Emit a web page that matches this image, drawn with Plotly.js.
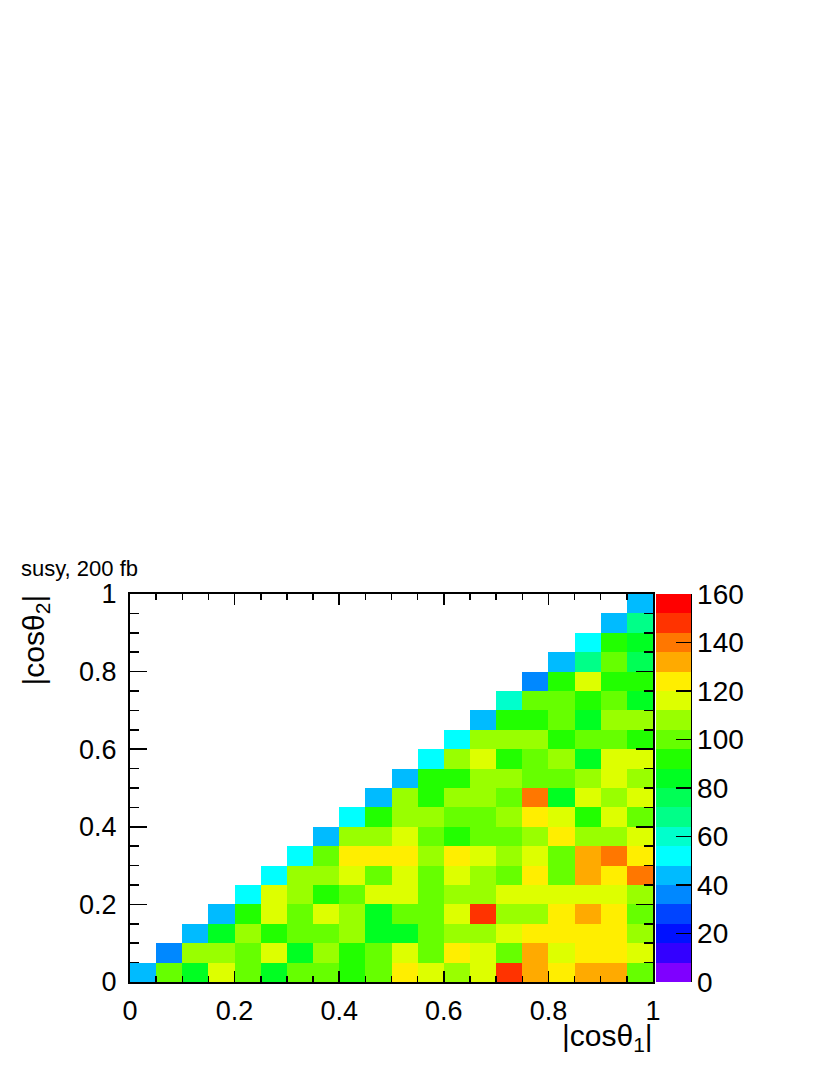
<!DOCTYPE html>
<html>
<head>
<meta charset="utf-8">
<script src="https://cdn.plot.ly/plotly-3.0.1.min.js"></script>
<style>
  body { margin: 0; background: #fff; }
  #plot { width: 830px; height: 1075px; }
</style>
</head>
<body>
<div id="plot"></div>
<script>
// bin centres of |cos theta_1| (x) and |cos theta_2| (y), 20 bins in [0,1]
const xCenters = [0.025, 0.075, 0.125, 0.175, 0.225, 0.275, 0.325, 0.375, 0.425, 0.475,
                  0.525, 0.575, 0.625, 0.675, 0.725, 0.775, 0.825, 0.875, 0.925, 0.975];
const yCenters = xCenters.slice();

// entries per bin, one row per y bin (bottom to top), empty above the diagonal
const n = null;
const row00 = [44, 100, 84, 116, 100, 84, 100, 100, 92, 100, 124, 116, 108, 116, 148, 132, 124, 132, 132, 100];
const row01 = [n, 36, 108, 108, 100, 116, 84, 108, 92, 100, 116, 100, 124, 116, 100, 132, 116, 124, 124, 116];
const row02 = [n, n, 44, 84, 108, 92, 100, 100, 108, 84, 84, 100, 108, 108, 116, 124, 124, 124, 124, 108];
const row03 = [n, n, n, 44, 92, 116, 100, 116, 108, 84, 100, 100, 116, 148, 108, 108, 124, 132, 124, 100];
const row04 = [n, n, n, n, 52, 116, 108, 92, 100, 116, 116, 100, 108, 108, 116, 116, 116, 116, 116, 108];
const row05 = [n, n, n, n, n, 52, 108, 108, 116, 100, 116, 100, 116, 108, 100, 124, 100, 132, 124, 140];
const row06 = [n, n, n, n, n, n, 52, 100, 124, 124, 124, 108, 124, 116, 108, 116, 100, 132, 140, 124];
const row07 = [n, n, n, n, n, n, n, 44, 108, 108, 116, 100, 92, 100, 100, 108, 124, 108, 108, 116];
const row08 = [n, n, n, n, n, n, n, n, 52, 92, 108, 108, 100, 100, 108, 124, 116, 92, 116, 100];
const row09 = [n, n, n, n, n, n, n, n, n, 44, 108, 92, 108, 108, 100, 140, 84, 116, 108, 116];
const row10 = [n, n, n, n, n, n, n, n, n, n, 44, 92, 92, 108, 108, 100, 100, 108, 116, 108];
const row11 = [n, n, n, n, n, n, n, n, n, n, n, 52, 108, 116, 92, 100, 108, 84, 116, 116];
const row12 = [n, n, n, n, n, n, n, n, n, n, n, n, 52, 108, 108, 108, 92, 100, 100, 92];
const row13 = [n, n, n, n, n, n, n, n, n, n, n, n, n, 44, 92, 92, 100, 84, 108, 108];
const row14 = [n, n, n, n, n, n, n, n, n, n, n, n, n, n, 60, 100, 100, 92, 100, 84];
const row15 = [n, n, n, n, n, n, n, n, n, n, n, n, n, n, n, 36, 92, 116, 92, 92];
const row16 = [n, n, n, n, n, n, n, n, n, n, n, n, n, n, n, n, 44, 68, 100, 76];
const row17 = [n, n, n, n, n, n, n, n, n, n, n, n, n, n, n, n, n, 52, 92, 84];
const row18 = [n, n, n, n, n, n, n, n, n, n, n, n, n, n, n, n, n, n, 44, 68];
const row19 = [n, n, n, n, n, n, n, n, n, n, n, n, n, n, n, n, n, n, n, 44];

const zRows = [row00, row01, row02, row03, row04, row05, row06, row07, row08, row09,
               row10, row11, row12, row13, row14, row15, row16, row17, row18, row19];

const colorTicks = [0, 20, 40, 60, 80, 100, 120, 140, 160];

// ROOT-like rainbow palette, 20 contour levels between 0 and 160
const palette = ['#7f00ff', '#3300ff', '#0011ff', '#0044ff', '#0088ff', '#00bbff', '#00ffff', '#00ffcc',
                 '#00ff88', '#00ff55', '#00ff22', '#22ff00', '#66ff00', '#99ff00', '#ddff00', '#ffee00',
                 '#ffaa00', '#ff7700', '#ff3300', '#ff0000'];
const colorscale = [];
palette.forEach((c, k) => {
    colorscale.push([k / palette.length, c]);
    colorscale.push([(k + 1) / palette.length, c]);
});

const font = 'Liberation Sans, Arial, Helvetica, sans-serif';

const trace = {
    type: 'heatmap',
    x: xCenters,
    y: yCenters,
    z: zRows,
    zmin: 0,
    zmax: 160,
    zsmooth: false,
    colorscale: colorscale,
    hoverongaps: false,
    colorbar: {
        x: (656 - 130) / 523,
        xanchor: 'left',
        xpad: 0,
        y: 0.5,
        yanchor: 'middle',
        ypad: 0,
        len: 1,
        thickness: 35,
        outlinewidth: 0,
        tickvals: colorTicks,
        ticks: 'inside',
        ticklen: 15,
        tickcolor: 'black',
        tickwidth: 1.5,
        tickfont: {family: font, size: 28, color: 'black'}
    }
};

function axis(len, minorLen) {
    return {
        range: [0, 1],
        tick0: 0,
        dtick: 0.2,
        ticks: 'inside',
        ticklen: len,
        tickwidth: 1.5,
        tickcolor: 'black',
        minor: {dtick: 0.05, ticks: 'inside', ticklen: minorLen, tickcolor: 'black', tickwidth: 1.5},
        showline: true,
        linecolor: 'black',
        linewidth: 2,
        mirror: 'allticks',
        showgrid: false,
        zeroline: false,
        fixedrange: true,
        tickfont: {family: font, size: 27, color: 'black'}
    };
}

const xaxis = axis(11, 6);
xaxis.ticklabelstandoff = 4;
const yaxis = axis(17, 9);
yaxis.ticklabelstandoff = 6;

const layout = {
    width: 830,
    height: 1075,
    margin: {l: 130, r: 177, t: 594, b: 93},
    paper_bgcolor: 'white',
    plot_bgcolor: 'white',
    font: {family: font, color: 'black'},
    xaxis: xaxis,
    yaxis: yaxis,
    shapes: [
        {type: 'line', xref: 'paper', yref: 'paper', x0: (691 - 130) / 523, x1: (691 - 130) / 523,
         y0: 0, y1: 1, line: {color: 'black', width: 2}}
    ],
    annotations: [
        {text: 'susy, 200 fb', xref: 'paper', yref: 'paper', x: (19 - 130) / 523, y: 1 + (594 - 568) / 388,
         xanchor: 'left', yanchor: 'middle', showarrow: false, font: {size: 22}},
        {text: '|cosθ<sub>1</sub>|', xref: 'paper', yref: 'paper', x: 1.004, y: -(1017 - 982) / 388,
         xanchor: 'right', yanchor: 'top', showarrow: false, font: {size: 30}},
        {text: '|cosθ<sub>2</sub>|', xref: 'paper', yref: 'paper', x: (15 - 130) / 523, y: 1.004,
         xanchor: 'left', yanchor: 'top', textangle: -90, showarrow: false, font: {size: 30}}
    ]
};

Plotly.newPlot('plot', [trace], layout, {displayModeBar: false, staticPlot: true});
</script>
</body>
</html>
